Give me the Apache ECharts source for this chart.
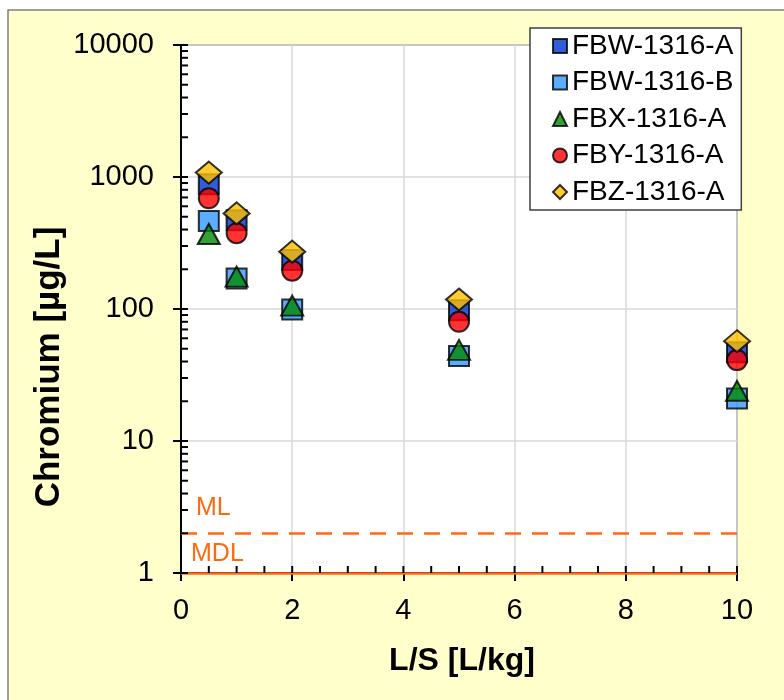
<!DOCTYPE html>
<html>
<head>
<meta charset="utf-8">
<script src="https://cdn.jsdelivr.net/npm/echarts@6/dist/echarts.min.js"></script>
<style>
  html, body { margin: 0; padding: 0; background: #fff; }
  #chart { width: 784px; height: 700px; }
</style>
</head>
<body>
<div id="chart"></div>
<script>
// L/S ratios
const ls = [0.5, 1, 2, 5, 10];

// chromium concentration, ug/L
const fbwA = [880, 470, 235, 98, 47];
const fbwB = [465, 170, 99, 44, 21];
const fbxA = [370, 176, 106, 49, 24];
const fbyA = [690, 375, 195, 80, 41];
const fbzA = [1080, 530, 272, 118, 57];

const yTicks = [1, 10, 100, 1000, 10000];
const xTicks = [0, 2, 4, 6, 8, 10];
const mlValue = 2;
const mdlValue = 1;

const font = 'Arial, "Liberation Sans", sans-serif';
const orange = '#ff6a10';

// inner half of the major ticks + log minor ticks (2..9 per decade)
const yInner = [];
yTicks.forEach((d, i) => {
  yInner.push(d);
  if (i < yTicks.length - 1) {
    for (let m = 2; m <= 9; m++) yInner.push(d * m);
  }
});
// x: major ticks and a minor tick every 0.5
const xInner = [];
for (let i = 0; i < xTicks.length - 1; i++) {
  for (let k = 0; k < 4; k++) xInner.push(xTicks[i] + k * 0.5);
}
xInner.push(xTicks[xTicks.length - 1]);

const pts = (ys) => ls.map((x, i) => [x, ys[i]]);

const mk = (name, data, symbol, size, color) => ({
  name,
  type: 'scatter',
  data: pts(data),
  symbol,
  symbolSize: size,
  itemStyle: { color, borderColor: '#000', borderWidth: 2 },
  z: 5
});

const chart = echarts.init(document.getElementById('chart'));

chart.setOption({
  backgroundColor: '#fff',
  animation: false,
  graphic: [
    {
      type: 'rect',
      shape: { x: 8, y: 10, width: 800, height: 720 },
      style: { fill: '#ffffcc', stroke: '#808080', lineWidth: 1.5 },
      z: -10
    },
    {
      type: 'text',
      x: 49,
      y: 367,
      rotation: Math.PI / 2,
      style: {
        text: 'Chromium [µg/L]',
        font: 'bold 35px ' + font,
        fill: '#000',
        textAlign: 'center',
        textVerticalAlign: 'middle'
      }
    }
  ],
  grid: {
    left: 181,
    top: 45,
    width: 556,
    height: 528,
    show: true,
    backgroundColor: '#fff',
    borderColor: '#6e6e6e',
    borderWidth: 1.5
  },
  legend: {
    orient: 'vertical',
    left: 530,
    top: 28,
    padding: [4, 8, 4, 22],
    itemGap: 8.5,
    itemWidth: 14,
    itemHeight: 14,
    backgroundColor: '#fff',
    borderColor: '#404040',
    borderWidth: 1.5,
    textStyle: { fontFamily: font, fontSize: 28, lineHeight: 28, color: '#000' },
    data: ['FBW-1316-A', 'FBW-1316-B', 'FBX-1316-A', 'FBY-1316-A', 'FBZ-1316-A']
  },
  xAxis: {
    type: 'value',
    min: 0,
    max: 10,
    interval: 2,
    name: 'L/S [L/kg]',
    nameLocation: 'middle',
    nameGap: 72,
    nameTextStyle: { fontFamily: font, fontSize: 32, fontWeight: 'bold', color: '#000', padding: [0, 0, 0, 6] },
    axisLine: { show: true, lineStyle: { color: '#000', width: 2 } },
    axisTick: { show: true, inside: false, length: 8, lineStyle: { color: '#000', width: 2 } },
    axisLabel: { fontFamily: font, fontSize: 29, color: '#000', margin: 23 },
    splitLine: { show: true, lineStyle: { color: '#d9d9d9', width: 1.5 } }
  },
  yAxis: {
    type: 'log',
    logBase: 10,
    min: 1,
    max: 10000,
    axisLine: { show: true, lineStyle: { color: '#000', width: 2 } },
    axisTick: { show: true, inside: false, length: 8, lineStyle: { color: '#000', width: 2 } },
    axisLabel: {
      fontFamily: font,
      fontSize: 29,
      color: '#000',
      margin: 27,
      formatter: (v) => String(Math.round(v))
    },
    splitLine: { show: true, lineStyle: { color: '#d9d9d9', width: 1.5 } }
  },
  series: [
    {
      name: 'yTicks',
      type: 'custom',
      coordinateSystem: 'cartesian2d',
      silent: true,
      clip: false,
      z: 6,
      encode: { x: 0, y: 1 },
      data: yInner.map(v => [0, v]),
      renderItem: (params, api) => {
        const p = api.coord([api.value(0), api.value(1)]);
        return {
          type: 'line',
          shape: { x1: p[0], y1: p[1], x2: p[0] + 7, y2: p[1] },
          style: { stroke: '#000', lineWidth: 2 }
        };
      }
    },
    {
      name: 'xTicks',
      type: 'custom',
      coordinateSystem: 'cartesian2d',
      silent: true,
      clip: false,
      z: 6,
      encode: { x: 0, y: 1 },
      data: xInner.map(v => [v, 1]),
      renderItem: (params, api) => {
        const p = api.coord([api.value(0), api.value(1)]);
        return {
          type: 'line',
          shape: { x1: p[0], y1: p[1], x2: p[0], y2: p[1] - 7 },
          style: { stroke: '#000', lineWidth: 2 }
        };
      }
    },
    {
      name: 'limits',
      type: 'line',
      data: [],
      silent: true,
      markLine: {
        silent: true,
        symbol: 'none',
        animation: false,
        data: [
          {
            yAxis: mlValue,
            lineStyle: { color: orange, width: 2.5, type: [16, 11] },
            label: { formatter: 'ML', distance: [15, 13] }
          },
          {
            yAxis: mdlValue,
            lineStyle: { color: orange, width: 2.5, type: 'solid' },
            label: { formatter: 'MDL', distance: [10, 6] }
          }
        ],
        label: {
          position: 'insideStartTop',
          color: orange,
          fontFamily: font,
          fontSize: 25
        }
      },
      z: 7
    },
    mk('FBW-1316-A', fbwA, 'rect', 20, '#0033cc'),
    mk('FBW-1316-B', fbwB, 'rect', 20, '#3399ff'),
    mk('FBX-1316-A', fbxA, 'triangle', [22, 20], '#008a00'),
    mk('FBY-1316-A', fbyA, 'circle', 20, '#ff0000'),
    mk('FBZ-1316-A', fbzA, 'diamond', [26, 22], '#ffc000')
  ]
});
</script>
</body>
</html>
